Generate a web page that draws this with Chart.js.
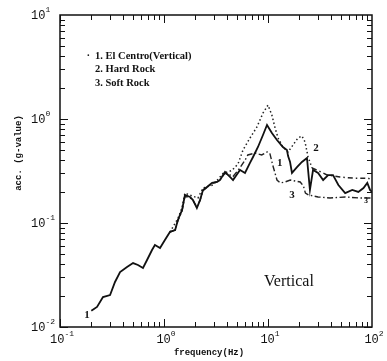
<!DOCTYPE html>
<html>
<head>
<meta charset="utf-8">
<script src="https://cdn.jsdelivr.net/npm/chart.js@4"></script>
<style>
  body { margin: 0; background: #fff; }
  #wrap { width: 387px; height: 361px; }
</style>
</head>
<body>
<div id="wrap"><canvas id="chart" width="387" height="361"></canvas></div>
<script>
'use strict';

// 1. El Centro (Vertical)
let freq1 = [0.2, 0.227, 0.259, 0.303, 0.338, 0.378, 0.441, 0.504, 0.562, 0.628, 0.687, 0.767, 0.818, 0.916,
  1.02, 1.14, 1.28, 1.36, 1.49, 1.59, 1.78, 1.90, 2.07, 2.22, 2.37, 2.59, 2.90, 3.24, 3.45, 3.86, 4.31, 4.61,
  5.38, 6.01, 6.71, 7.18, 8.01, 8.95, 9.78, 10.9, 12.2, 13.9, 15.2, 15.6, 16.3, 17.0, 19.0, 21.2, 23.7, 25.3,
  27.1, 30.3, 33.9, 37.9, 42.2, 47.5, 55.2, 64.6, 73.9, 82.8, 90.1, 95.7, 100];
let acc1 = [0.0143, 0.0156, 0.0194, 0.0203, 0.0271, 0.0338, 0.0378, 0.0412, 0.0395, 0.0369, 0.0441, 0.0550, 0.0614, 0.0575,
  0.0687, 0.0819, 0.0857, 0.107, 0.133, 0.186, 0.178, 0.166, 0.139, 0.166, 0.208, 0.222, 0.243, 0.248, 0.259, 0.309, 0.277, 0.259,
  0.323, 0.303, 0.378, 0.431, 0.538, 0.702, 0.876, 0.733, 0.628, 0.538, 0.504, 0.440, 0.386, 0.303, 0.345, 0.386, 0.422, 0.208,
  0.323, 0.303, 0.259, 0.289, 0.289, 0.232, 0.194, 0.208, 0.199, 0.217, 0.243, 0.208, 0.199];

// 2. Hard Rock
let freq2 = [1.14, 1.36, 1.49, 1.59, 1.78, 2.12, 2.37, 2.96, 3.7, 4.5, 5.15, 5.75, 6.71, 7.83, 8.95, 10.0, 10.9,
  11.7, 12.5, 13.9, 15.6, 17.4, 19.4, 21.2, 22.7, 24.3, 26.5, 29.5, 36.9, 49.2, 65.6, 91.6, 100];
let acc2 = [0.0819, 0.110, 0.140, 0.194, 0.185, 0.174, 0.217, 0.232, 0.300, 0.320, 0.370, 0.503, 0.656, 0.838, 1.14, 1.36, 1.09,
  0.819, 0.656, 0.538, 0.482, 0.562, 0.656, 0.687, 0.601, 0.431, 0.338, 0.323, 0.290, 0.277, 0.270, 0.270, 0.259];

// 3. Soft Rock
let freq3 = [1.14, 1.28, 1.36, 1.49, 1.59, 1.78, 1.90, 2.07, 2.22, 2.37, 2.59, 2.90, 3.24, 3.45, 3.86, 4.31, 4.61,
  5.38, 6.0, 6.4, 7.5, 8.7, 9.8, 10.4, 11.1, 12.2, 13.1, 14.6, 16.4, 18.3, 20.4, 21.9, 22.9, 24.6, 30.3, 39.5, 55.2, 76.7, 100];
let acc3 = [0.0819, 0.0857, 0.105, 0.130, 0.180, 0.175, 0.165, 0.142, 0.165, 0.205, 0.220, 0.240, 0.250, 0.260, 0.300, 0.290, 0.280,
  0.340, 0.400, 0.451, 0.471, 0.451, 0.482, 0.471, 0.361, 0.259, 0.243, 0.248, 0.259, 0.253, 0.248, 0.227, 0.194, 0.186, 0.178, 0.174, 0.178, 0.174, 0.174];

let legendLines = ['1. El Centro(Vertical)', '2. Hard Rock', '3. Soft Rock'];
let curveTags = ['1', '1', '2', '3', '3'];
let tagFreq = [0.182, 13.0, 28.9, 17.0, 87.5];
let tagAcc = [0.013, 0.378, 0.526, 0.186, 0.163];
let decadesX = [-1, 0, 1, 2];
let decadesY = [-2, -1, 0, 1];

function points(xs, ys) {
  return xs.map((x, i) => ({ x: x, y: ys[i] }));
}

const serif = '"Liberation Serif", "DejaVu Serif", serif';
const mono = '"Liberation Mono", "DejaVu Sans Mono", monospace';

let frame = {
  id: 'frame',
  afterDraw(chart) {
    let ctx = chart.ctx;
    let a = chart.chartArea;
    let xs = chart.scales.x, ys = chart.scales.y;
    ctx.save();
    ctx.strokeStyle = '#111';
    ctx.fillStyle = '#111';
    ctx.lineWidth = 1.5;
    ctx.strokeRect(a.left, a.top, a.right - a.left, a.bottom - a.top);

    // inward ticks on all four sides
    ctx.lineWidth = 1;
    ctx.beginPath();
    decadesX.slice(0, -1).forEach(d => {
      for (let m = 1; m <= 9; m++) {
        let px = Math.round(xs.getPixelForValue(m * Math.pow(10, d))) + 0.5;
        let len = m === 1 ? 8 : 5;
        ctx.moveTo(px, a.bottom); ctx.lineTo(px, a.bottom - len);
        ctx.moveTo(px, a.top); ctx.lineTo(px, a.top + len);
      }
    });
    decadesY.slice(0, -1).forEach(d => {
      for (let m = 1; m <= 9; m++) {
        let py = Math.round(ys.getPixelForValue(m * Math.pow(10, d))) + 0.5;
        let len = m === 1 ? 8 : 5;
        ctx.moveTo(a.left, py); ctx.lineTo(a.left + len, py);
        ctx.moveTo(a.right, py); ctx.lineTo(a.right - len, py);
      }
    });
    ctx.stroke();

    // tick labels 10^n
    function power(x, y, n, align) {
      ctx.font = '12px ' + mono;
      let w1 = ctx.measureText('10').width;
      ctx.font = '8px ' + mono;
      let w2 = ctx.measureText(String(n)).width;
      let x0 = align === 'center' ? x - (w1 + w2) / 2 : x;
      ctx.textAlign = 'left';
      ctx.textBaseline = 'middle';
      ctx.font = '12px ' + mono;
      ctx.fillText('10', x0, y);
      ctx.font = '8px ' + mono;
      ctx.fillText(String(n), x0 + w1, y - 6);
    }
    decadesX.forEach(d => power(xs.getPixelForValue(Math.pow(10, d)) + 2, a.bottom + 13, d, 'center'));
    decadesY.forEach(d => power(31, ys.getPixelForValue(Math.pow(10, d)) + 1, d, 'left'));

    // axis titles
    ctx.font = 'bold 9px ' + mono;
    ctx.textAlign = 'center';
    ctx.textBaseline = 'middle';
    ctx.fillText('frequency(Hz)', 209, 353);
    ctx.save();
    ctx.translate(19, 153);
    ctx.rotate(-Math.PI / 2);
    ctx.fillText('acc. (g-value)', 0, 0);
    ctx.restore();

    // legend text
    ctx.font = 'bold 10.5px ' + serif;
    ctx.textAlign = 'left';
    ctx.fillText('.', a.left + 27, a.top + 38);
    legendLines.forEach((t, i) => ctx.fillText(t, a.left + 35, a.top + 41 + i * 13.5));

    // curve numbers
    ctx.textAlign = 'center';
    curveTags.forEach((t, i) => {
      ctx.font = (i === 4 ? 'bold 8px ' : 'bold 11px ') + serif;
      ctx.fillText(t, xs.getPixelForValue(tagFreq[i]), ys.getPixelForValue(tagAcc[i]));
    });

    ctx.font = '16px ' + serif;
    ctx.fillText('Vertical', xs.getPixelForValue(15.9), ys.getPixelForValue(0.0271));
    ctx.restore();
  }
};

let data = {
  datasets: [{
    label: '1. El Centro(Vertical)',
    data: points(freq1, acc1),
    borderColor: '#111',
    borderWidth: 1.8
  }, {
    label: '2. Hard Rock',
    data: points(freq2, acc2),
    borderColor: '#222',
    borderWidth: 1.5,
    borderDash: [1.5, 2.5],
    segment: {
      borderDash: ctx => ctx.p0.parsed.x >= 26 ? [5, 3, 1.5, 3] : [1.5, 2.5]
    }
  }, {
    label: '3. Soft Rock',
    data: points(freq3, acc3),
    borderColor: '#222',
    borderWidth: 1.4,
    borderDash: [6, 2.5, 1.5, 2.5]
  }]
};

let config = {
  type: 'line',
  data: data,
  options: {
    responsive: false,
    animation: false,
    layout: { padding: { left: 60, right: 15, top: 15, bottom: 34 } },
    elements: { point: { radius: 0 }, line: { tension: 0, fill: false } },
    plugins: { legend: { display: false }, tooltip: { enabled: false } },
    scales: {
      x: { type: 'logarithmic', min: 0.1, max: 100, display: false },
      y: { type: 'logarithmic', min: 0.01, max: 10, display: false }
    }
  },
  plugins: [frame]
};

let canvasElem = document.getElementById('chart');
new Chart(canvasElem, config);
</script>
</body>
</html>
